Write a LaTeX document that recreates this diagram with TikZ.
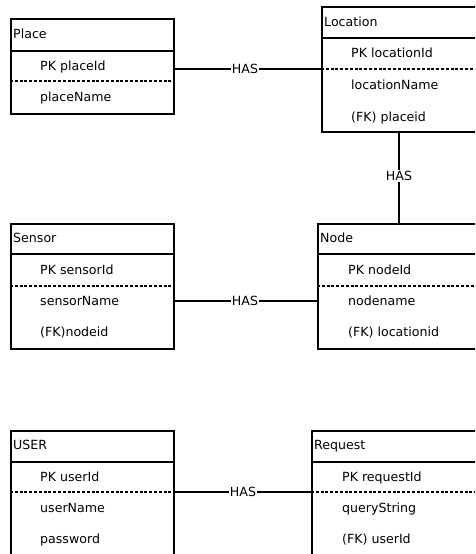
\documentclass[tikz,border=0pt]{standalone}
\usepackage{fontspec}
\setmainfont{DejaVu Sans}
\usetikzlibrary{calc}
\begin{document}
\begin{tikzpicture}[x=1pt,y=-1pt,
  entity/.style={draw, line width=1.6pt, rectangle, anchor=north west, inner sep=0pt},
  sep/.style={line width=1.4pt},
  keysep/.style={line width=1.2pt, dash pattern=on 3pt off 1.8pt},
  txt/.style={anchor=mid west, inner sep=0pt, yshift=-1.5pt, font=\fontsize{12.6}{14}\selectfont},
  title/.style={txt},
  attr/.style={txt},
  has/.style={inner sep=0.6pt, font=\fontsize{12.6}{14}\selectfont},
  link/.style={line width=1.5pt}]
\useasboundingbox (0,0) rectangle (475,554);
\clip (0,0) rectangle (475,554);

% ---------- Place ----------
\node[entity, minimum width=163pt, minimum height=95pt] (place) at (10,18) {};
\draw[sep] (place.north west) ++(0,33) -- ++(163,0);
\draw[keysep] (place.north west) ++(0,63) -- ++(163,0);
\node[title] (placeT) at ($(place.north west)+(3,16)$) {Place};
\node[attr] (placeA1) at ($(place.north west)+(30,48)$) {PK placeId};
\node[attr] (placeA2) at ($(place.north west)+(30,79)$) {placeName};

% ---------- Location ----------
\node[entity, minimum width=180pt, minimum height=125pt] (location) at (321,6) {};
\draw[sep] (location.north west) ++(0,32) -- ++(180,0);
\draw[keysep] (location.north west) ++(0,63) -- ++(180,0);
\node[title] (locationT) at ($(location.north west)+(3,16)$) {Location};
\node[attr] (locationA1) at ($(location.north west)+(30,47)$) {PK locationId};
\node[attr] (locationA2) at ($(location.north west)+(30,79)$) {locationName};
\node[attr] (locationA3) at ($(location.north west)+(30,111)$) {(FK) placeid};

% ---------- Sensor ----------
\node[entity, minimum width=163pt, minimum height=125pt] (sensor) at (10,223) {};
\draw[sep] (sensor.north west) ++(0,31) -- ++(163,0);
\draw[keysep] (sensor.north west) ++(0,63) -- ++(163,0);
\node[title] (sensorT) at ($(sensor.north west)+(3,15)$) {Sensor};
\node[attr] (sensorA1) at ($(sensor.north west)+(30,47)$) {PK sensorId};
\node[attr] (sensorA2) at ($(sensor.north west)+(30,78)$) {sensorName};
\node[attr] (sensorA3) at ($(sensor.north west)+(30,109)$) {(FK)nodeid};

% ---------- Node ----------
\node[entity, minimum width=180pt, minimum height=125pt] (nodebox) at (317,223) {};
\draw[sep] (nodebox.north west) ++(0,31) -- ++(180,0);
\draw[keysep] (nodebox.north west) ++(0,63) -- ++(180,0);
\node[title] (nodeT) at ($(nodebox.north west)+(3,15)$) {Node};
\node[attr] (nodeA1) at ($(nodebox.north west)+(31,47)$) {PK nodeId};
\node[attr] (nodeA2) at ($(nodebox.north west)+(31,78)$) {nodename};
\node[attr] (nodeA3) at ($(nodebox.north west)+(31,109)$) {(FK) locationid};

% ---------- USER ----------
\node[entity, minimum width=163pt, minimum height=140pt] (user) at (10,430) {};
\draw[sep] (user.north west) ++(0,32) -- ++(163,0);
\draw[keysep] (user.north west) ++(0,62) -- ++(163,0);
\node[title] (userT) at ($(user.north west)+(3,15)$) {USER};
\node[attr] (userA1) at ($(user.north west)+(30,47)$) {PK userId};
\node[attr] (userA2) at ($(user.north west)+(30,78)$) {userName};
\node[attr] (userA3) at ($(user.north west)+(30,109)$) {password};

% ---------- Request ----------
\node[entity, minimum width=180pt, minimum height=140pt] (request) at (311,430) {};
\draw[sep] (request.north west) ++(0,32) -- ++(180,0);
\draw[keysep] (request.north west) ++(0,62) -- ++(180,0);
\node[title] (requestT) at ($(request.north west)+(3,15)$) {Request};
\node[attr] (requestA1) at ($(request.north west)+(31,47)$) {PK requestId};
\node[attr] (requestA2) at ($(request.north west)+(31,78)$) {queryString};
\node[attr] (requestA3) at ($(request.north west)+(31,109)$) {(FK) userId};

% ---------- Relationships ----------
\node[has] (has1) at (245,69) {HAS};
\draw[link] (has1.west) -- (has1 -| place.east);
\draw[link] (has1.east) -- (has1 -| location.west);

\node[has] (has2) at (399,176) {HAS};
\draw[link] (has2.north) -- (has2 |- location.south);
\draw[link] (has2.south) -- (has2 |- nodebox.north);

\node[has] (has3) at (245,301) {HAS};
\draw[link] (has3.west) -- (has3 -| sensor.east);
\draw[link] (has3.east) -- (has3 -| nodebox.west);

\node[has] (has4) at (243,492) {HAS};
\draw[link] (has4.west) -- (has4 -| user.east);
\draw[link] (has4.east) -- (has4 -| request.west);
\end{tikzpicture}
\end{document}
